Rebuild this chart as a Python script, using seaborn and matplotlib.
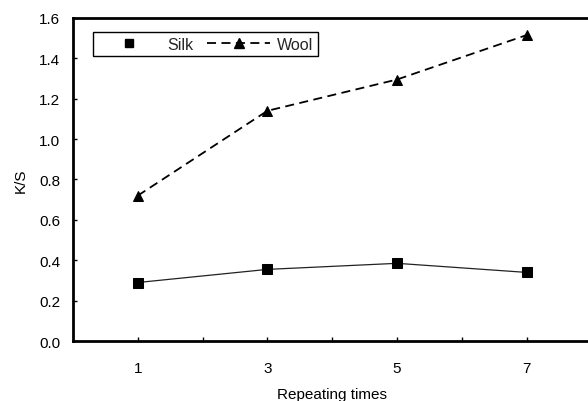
import matplotlib
matplotlib.use("Agg")
import matplotlib.pyplot as plt
import seaborn as sns
import pandas as pd
from matplotlib.lines import Line2D
from matplotlib.ticker import FixedLocator

times = [1, 3, 5, 7]
silk = [0.29, 0.355, 0.385, 0.34]
wool = [0.72, 1.14, 1.295, 1.515]
xticks = [1, 3, 5, 7]
yticks = [0.0, 0.2, 0.4, 0.6, 0.8, 1.0, 1.2, 1.4, 1.6]

sns.set_theme(style="white")
plt.rcParams['font.family'] = ['Liberation Sans', 'DejaVu Sans']

fig = plt.figure(figsize=(5.88, 4.02), dpi=100)
ax = fig.add_axes([0.124, 0.149, 0.882, 0.804])

dash = (0, (5, 3))
df_silk = pd.DataFrame({"x": times, "y": silk})
df_wool = pd.DataFrame({"x": times, "y": wool})
sns.lineplot(data=df_silk, x="x", y="y", ax=ax, color="#222222", linewidth=0.9,
             marker="s", markersize=6.5, markeredgecolor="black", markerfacecolor="black")
sns.lineplot(data=df_wool, x="x", y="y", ax=ax, color="black", linewidth=1.3,
             linestyle=dash, marker="^", markersize=7,
             markeredgecolor="black", markerfacecolor="black")

ax.set_xlim(0, 8)
ax.set_ylim(0, 1.6)
ax.xaxis.set_major_locator(FixedLocator(xticks))
ax.xaxis.set_minor_locator(FixedLocator([2, 4, 6]))
ax.set_xticklabels([str(t) for t in xticks])
ax.set_yticks(yticks)
ax.set_yticklabels([f"{v:.1f}" for v in yticks])

for s in ["left", "bottom", "top"]:
    ax.spines[s].set_linewidth(2)
    ax.spines[s].set_color("black")
ax.spines["right"].set_visible(False)

ax.tick_params(axis="x", which="both", direction="in", length=3, width=1, color="black",
               bottom=True, pad=14, labelsize=11, labelcolor="black")
ax.tick_params(axis="y", which="both", direction="in", length=3, width=1, color="black",
               left=True, pad=9, labelsize=11, labelcolor="black")

ax.set_xlabel("Repeating times", fontsize=11, color="black", labelpad=9)
ax.set_ylabel("K/S", fontsize=11, color="black", labelpad=8)

handles = [
    Line2D([], [], linestyle="none", marker="s", markersize=6, color="black"),
    Line2D([], [], linestyle=dash, linewidth=1.3, marker="^", markersize=7, color="black"),
]
leg = ax.legend(handles, ["Silk", "Wool"], ncol=2, loc="upper left",
                bbox_to_anchor=(0.038, 0.957), fontsize=11.5, frameon=True, fancybox=False,
                framealpha=1, edgecolor="black", borderpad=0.3, handlelength=4.0,
                columnspacing=0.8, handletextpad=0.4, borderaxespad=0)
leg.get_frame().set_linewidth(1)

fig.savefig("out.png", dpi=100)
